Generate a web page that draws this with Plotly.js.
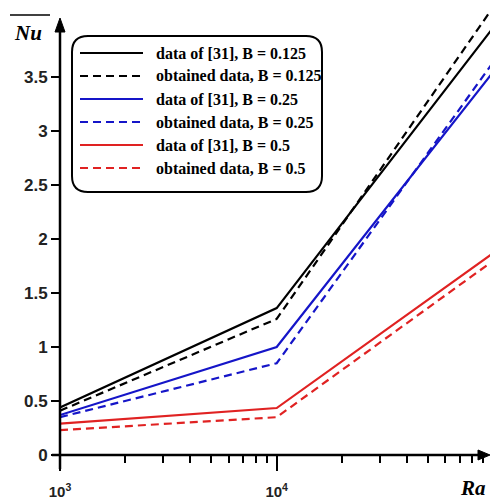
<!DOCTYPE html>
<html>
<head>
<meta charset="utf-8">
<script src="https://cdn.plot.ly/plotly-3.0.1.min.js"></script>
<style>html,body{margin:0;padding:0;background:#fff;}#chart{width:490px;height:500px;}</style>
</head>
<body>
<div id="chart"></div>
<script>
// ---- data ----
const ra = [1e3, 1e4, 1e5];
const nuRef0125 = [0.44, 1.36, 3.96];
const nuObt0125 = [0.41, 1.26, 4.15];
const nuRef025  = [0.37, 1.00, 3.55];
const nuObt025  = [0.35, 0.85, 3.64];
const nuRef05   = [0.29, 0.435, 1.87];
const nuObt05   = [0.23, 0.35, 1.80];
const seriesNames = [
  "data of [31], B = 0.125",
  "obtained data, B = 0.125",
  "data of [31], B = 0.25",
  "obtained data, B = 0.25",
  "data of [31], B = 0.5",
  "obtained data, B = 0.5"
];
const xTickVals = [1e3, 1e4];
const xTickText = ["10<sup>3</sup>", "10<sup>4</sup>"];
const yTickVals = [0, 0.5, 1, 1.5, 2, 2.5, 3, 3.5];
const yTickText = ["0", "0.5", "1", "1.5", "2", "2.5", "3", "3.5"];
const minorVals = [2e3,3e3,4e3,5e3,6e3,7e3,8e3,9e3,2e4,3e4,4e4,5e4,6e4,7e4,8e4,9e4];

// ---- styling ----
const BLACK = "#000000", BLUE = "#1515c8", RED = "#e02222";
const DASH = "8px,5px";
const styles = [
  {color: BLACK, dash: "solid"}, {color: BLACK, dash: DASH},
  {color: BLUE, dash: "solid"},  {color: BLUE, dash: DASH},
  {color: RED, dash: "solid"},   {color: RED, dash: DASH}
];
const ys = [nuRef0125, nuObt0125, nuRef025, nuObt025, nuRef05, nuObt05];

const W = 490, H = 500;
const L = 60, R = 0, T = 0, B = 45;
const PW = W - L - R, PH = H - T - B;
const px = p => (p - L) / PW;          // pixel -> paper x
const py = p => (H - B - p) / PH;      // pixel -> paper y

const traces = ys.map((y, i) => ({
  x: ra, y: y, type: "scatter", mode: "lines", name: seriesNames[i],
  line: {color: styles[i].color, dash: styles[i].dash, width: 2.2},
  showlegend: false, hoverinfo: "skip"
}));

const shapes = [];
const annotations = [];

// axes lines with arrows
shapes.push({type: "line", xref: "paper", yref: "paper", x0: px(52), x1: px(482), y0: 0, y1: 0, line: {color: BLACK, width: 2.5}});
shapes.push({type: "path", xref: "paper", yref: "paper", fillcolor: BLACK, line: {color: BLACK, width: 1},
  path: `M ${px(490)} ${py(455)} L ${px(478)} ${py(450)} L ${px(478)} ${py(460)} Z`});
shapes.push({type: "line", xref: "paper", yref: "paper", x0: 0, x1: 0, y0: py(469), y1: py(30), line: {color: BLACK, width: 2.5}});
shapes.push({type: "path", xref: "paper", yref: "paper", fillcolor: BLACK, line: {color: BLACK, width: 1},
  path: `M ${px(60)} ${py(18)} L ${px(55)} ${py(32)} L ${px(65)} ${py(32)} Z`});

// legend box (rounded)
const bx0 = 72, bx1 = 322, by0 = 36, by1 = 192, r = 16;
shapes.push({type: "path", xref: "paper", yref: "paper", line: {color: BLACK, width: 2}, fillcolor: "rgba(255,255,255,0)",
  path: `M ${px(bx0 + r)} ${py(by0)} L ${px(bx1 - r)} ${py(by0)} Q ${px(bx1)} ${py(by0)} ${px(bx1)} ${py(by0 + r)} ` +
        `L ${px(bx1)} ${py(by1 - r)} Q ${px(bx1)} ${py(by1)} ${px(bx1 - r)} ${py(by1)} ` +
        `L ${px(bx0 + r)} ${py(by1)} Q ${px(bx0)} ${py(by1)} ${px(bx0)} ${py(by1 - r)} ` +
        `L ${px(bx0)} ${py(by0 + r)} Q ${px(bx0)} ${py(by0)} ${px(bx0 + r)} ${py(by0)} Z`});
seriesNames.forEach((name, i) => {
  const rowY = 53 + 23 * i;
  shapes.push({type: "line", xref: "paper", yref: "paper", x0: px(80), x1: px(143), y0: py(rowY), y1: py(rowY),
    line: {color: styles[i].color, dash: styles[i].dash, width: 2.2}});
  annotations.push({xref: "paper", yref: "paper", x: px(154), y: py(rowY), xanchor: "left", yanchor: "middle",
    text: name, showarrow: false, font: {family: "Liberation Serif", size: 16, color: BLACK, weight: "bold"}});
});

// axis titles
annotations.push({xref: "paper", yref: "paper", x: px(28), y: py(33), xanchor: "center", yanchor: "middle",
  text: "<i>Nu</i>", showarrow: false, font: {family: "Liberation Serif", size: 21, color: BLACK, weight: "bold"}});
shapes.push({type: "line", xref: "paper", yref: "paper", x0: px(10), x1: px(50), y0: py(15), y1: py(15), line: {color: BLACK, width: 1.5}});
annotations.push({xref: "paper", yref: "paper", x: px(488), y: py(488), xanchor: "right", yanchor: "middle",
  text: "<i>Ra</i>", showarrow: false, font: {family: "Liberation Serif", size: 21, color: BLACK, weight: "bold"}});

const layout = {
  width: W, height: H,
  margin: {l: L, r: R, t: T, b: B, pad: 0},
  paper_bgcolor: "#fff", plot_bgcolor: "#fff",
  showlegend: false,
  xaxis: {
    type: "log", range: [3, 3 + PW / 216.7],
    tickmode: "array", tickvals: xTickVals, ticktext: xTickText,
    ticks: "outside", ticklen: 15, tickwidth: 2, tickcolor: BLACK,
    minor: {tickmode: "array", tickvals: minorVals, ticks: "outside", ticklen: 7, tickwidth: 2, tickcolor: BLACK, showgrid: false},
    showgrid: false, zeroline: false, showline: false,
    ticklabelstandoff: 8,
    tickfont: {family: "Liberation Sans", size: 15, color: "#222", weight: "bold"}
  },
  yaxis: {
    range: [0, PH / 108],
    tickmode: "array", tickvals: yTickVals, ticktext: yTickText,
    ticks: "outside", ticklen: 8, tickwidth: 2, tickcolor: BLACK,
    showgrid: false, zeroline: false, showline: false,
    tickfont: {family: "Liberation Sans", size: 17, color: "#222", weight: "bold"}
  },
  shapes: shapes,
  annotations: annotations
};

Plotly.newPlot("chart", traces, layout, {displayModeBar: false, staticPlot: true});
</script>
</body>
</html>
